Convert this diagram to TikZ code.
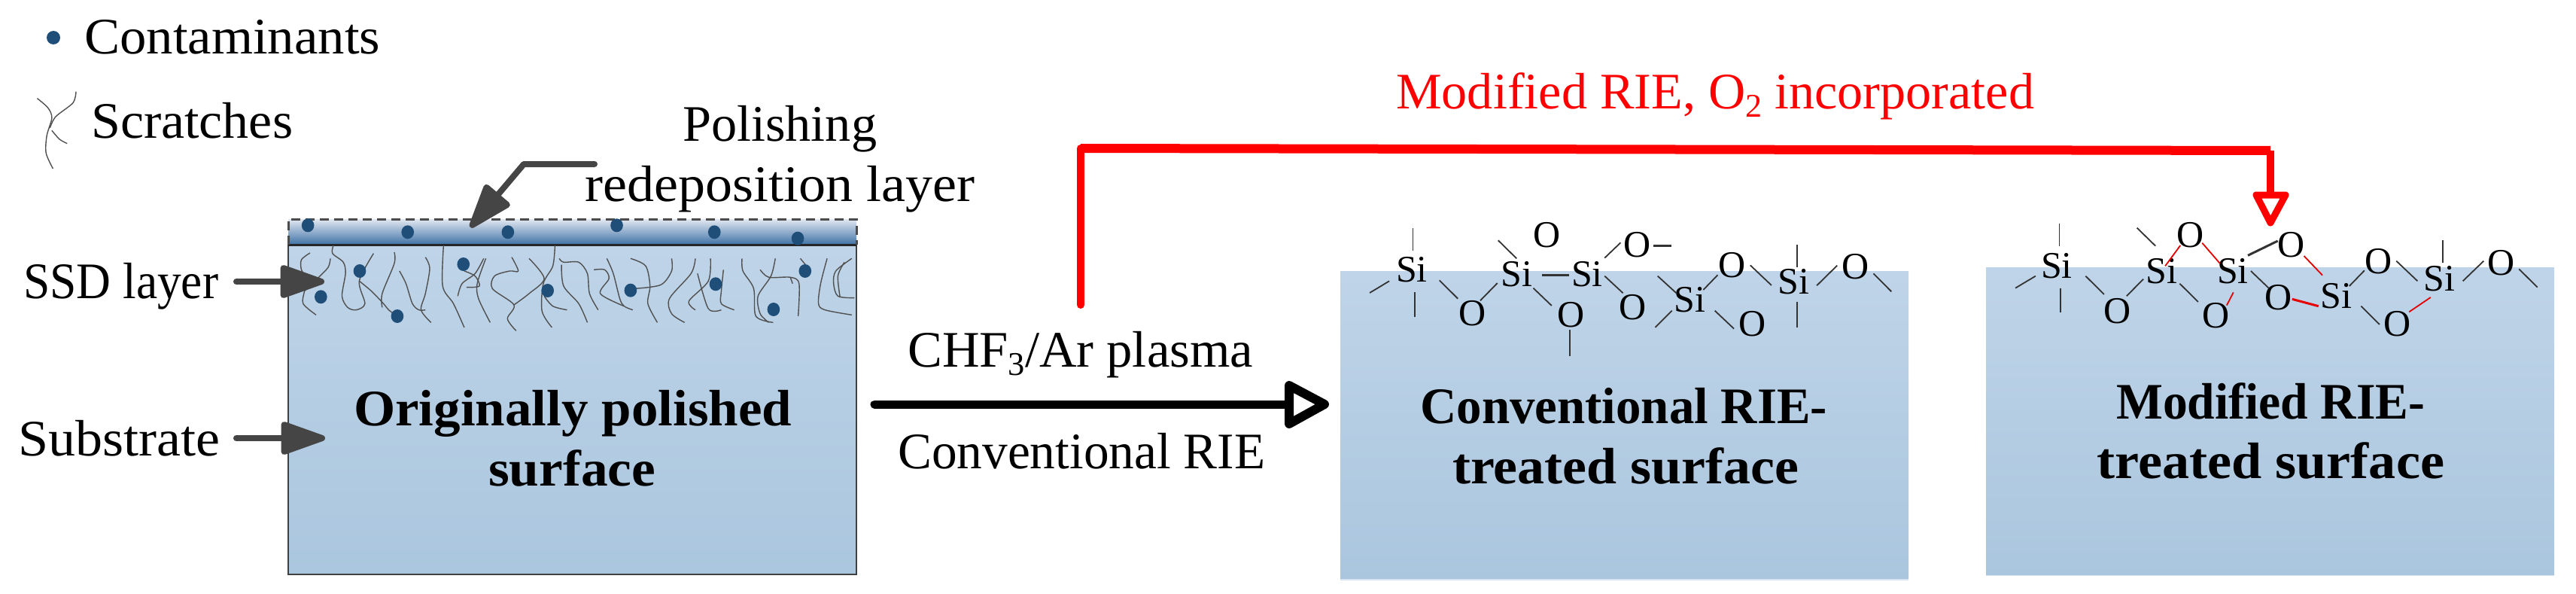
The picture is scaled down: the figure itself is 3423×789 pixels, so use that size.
\documentclass[tikz,border=0pt]{standalone}
\usepackage{fontspec}
\usepackage{graphicx}
\setmainfont{Liberation Serif}
\usetikzlibrary{arrows.meta}
\definecolor{boxtop}{HTML}{BFD4E8}
\definecolor{boxbot}{HTML}{AAC6DE}
\definecolor{lip}{HTML}{D8E4EF}
\definecolor{dotblue}{HTML}{1F4E79}
\definecolor{pointer}{HTML}{454545}
\definecolor{scr}{HTML}{505050}
\definecolor{laytop}{HTML}{E2E8F1}
\definecolor{laymid}{HTML}{A9C1DA}
\definecolor{laybot}{HTML}{3F72A6}
\newsavebox\fitbox
\newcommand\fitx[2]{\sbox\fitbox{#2}\pgfmathparse{#1/(\the\wd\fitbox)}\scalebox{\pgfmathresult}[1]{\usebox\fitbox}}
\newcommand\lowsub[1]{\raisebox{-11pt}{\fontsize{44}{44}\selectfont #1}}
\tikzset{
  lab/.style={inner sep=0pt,anchor=base west,font=\fontsize{68}{68}\selectfont},
  blab/.style={lab,font=\fontsize{68}{68}\selectfont\bfseries},
  atom/.style={inner sep=0pt,anchor=center,font=\fontsize{50}{50}\selectfont},
  bond/.style={draw=black!80,line width=1.8pt},
  hbond/.style={draw=black!80,line width=3pt},
  rbond/.style={draw=red!90!black,line width=1.8pt},
  rhbond/.style={draw=red!90!black,line width=3pt},
  scratch/.style={draw=scr,line width=1.4pt,line join=round},
  pointerarrow/.style={draw=pointer,line width=8pt,line cap=round,line join=round,
     -{Triangle[length=67pt,width=45pt,round=false]}},
  dotmark/.style={fill=dotblue},
}
\newcommand\scrline[1]{\draw[scratch] plot[smooth] coordinates {#1};}
\begin{document}
\begin{tikzpicture}[x=1pt,y=-1pt]
\useasboundingbox (0,0) rectangle (3423,789);
\fill[white] (0,0) rectangle (3423,789);

% coordinates of connectors
\coordinate (ssdS) at (314,374);
\coordinate (ssdT) at (431,374);
\coordinate (subS) at (314,582);
\coordinate (subT) at (432,582);
\coordinate (polS) at (790,218);
\coordinate (polK) at (696,218);
\coordinate (polT) at (625,302);
\coordinate (mainS) at (1162,537);
\coordinate (mainB) at (1712,537);
\coordinate (mainU) at (1713,512);
\coordinate (mainL) at (1713,563);
\coordinate (mainT) at (1760,537);
\coordinate (redS) at (1436,405);
\coordinate (redK) at (1436,197);
\coordinate (redJ) at (3017,200);
\coordinate (redB) at (3017,259);
\coordinate (redU) at (2998,259);
\coordinate (redL) at (3037,259);
\coordinate (redT) at (3017,296);

% boxes
\shade[top color=boxtop,bottom color=boxbot] (383,325) rectangle (1138,763);
\shade[top color=laytop,middle color=laymid,bottom color=laybot] (383,291) rectangle (1138,325);
\draw[black!75,line width=2.5pt] (383,325) -- (383,763) -- (1138,763) -- (1138,325);
\draw[black!85,line width=3pt] (383,325) -- (1138,325);
\draw[black!70,line width=3pt,dash pattern=on 12pt off 7pt] (383,325) -- (383,291) -- (1138,291) -- (1138,325);

\fill[lip] (1781,768) rectangle (2536,771);
\shade[top color=boxtop,bottom color=boxbot] (1781,360) rectangle (2536,768);
\fill[lip] (2639,763) rectangle (3394,765);
\shade[top color=boxtop,bottom color=boxbot] (2639,355) rectangle (3394,763);

% contaminants and scratches, traced in crop coordinates
\begin{scope}[shift={(350,280)},xscale=0.574,yscale=0.3333]
\foreach \p in {
 {(108,168)(88,195)(88,235)(100,270)(95,320)(92,370)(122,415)},
 {(155,190)(150,225)(125,270)(95,320)},
 {(162,138)(160,170)(185,205)(190,250)(182,340)(195,385)(215,395)(235,370)(222,280)(255,170)},
 {(222,280)(250,320)(278,370)(290,395)(310,420)},
 {(303,165)(303,210)(275,330)(275,385)},
 {(315,240)(330,290)(345,370)(360,395)(375,395)},
 {(375,185)(385,230)(375,330)(365,395)(388,445)},
 {(417,138)(415,300)(440,370)(465,465)},
 {(510,190)(490,250)(460,290)(450,340)},
 {(465,240)(490,260)(500,300)(470,305)},
 {(515,190)(495,290)(498,350)(525,445)},
 {(575,185)(590,240)(570,240)(535,260)(530,310)(580,375)(565,430)(585,478)},
 {(615,190)(650,270)(615,330)(580,375)},
 {(675,138)(670,220)(648,290)(645,400)(668,465)},
 {(650,340)(670,380)(703,395)},
 {(685,190)(695,205)(730,205)(750,250)(755,330)(775,395)},
 {(690,215)(695,300)(730,370)(750,445)},
 {(765,235)(790,235)(800,270)(780,330)(835,380)},
 {(795,190)(810,250)(825,350)(835,380)(855,395)},
 {(850,190)(885,220)(895,300)(890,370)(912,445)},
 {(945,190)(945,240)(920,295)(860,310)},
 {(1000,190)(990,250)(940,350)(945,410)(975,445)},
 {(1035,190)(1030,280)(985,360)(1000,395)},
 {(1005,250)(1030,390)(1060,395)},
 {(1065,235)(1060,320)(1060,370)(1090,395)},
 {(1108,190)(1110,240)(1135,310)(1140,420)(1180,445)},
 {(1185,190)(1175,260)(1145,340)(1150,410)(1170,445)},
 {(1150,235)(1170,265)(1220,265)(1240,290)(1238,420)},
 {(1220,265)(1225,290)},
 {(1243,190)(1255,215)},
 {(1305,190)(1290,290)(1285,370)(1300,395)(1362,415)},
 {(1362,190)(1325,240)(1320,290)(1330,340)(1368,347)},
 {(1345,205)(1330,260)(1335,345)}}
 {\expandafter\scrline\expandafter{\p}}
\foreach \x/\y in {103/58,334/85,566/85,818/58,1044/85,1237/110,223/240,133/343,310/420,463/213,658/318,850/317,1047/292,1181/393,1254/240}
 \fill[dotmark] (\x,\y) ellipse [x radius=14.5,y radius=27];
\end{scope}

% legend
\fill[dotmark] (71,50) ellipse [x radius=9,y radius=9];
\begin{scope}[xscale=0.5102,yscale=0.3333]
\scrline{(97,392)(125,430)(135,470)(122,540)(120,610)(138,672)}
\scrline{(198,365)(190,410)(145,465)(130,510)}
\scrline{(135,520)(155,555)(175,572)}
\end{scope}
\node[lab] (tcont) at (112,72) {\fitx{393}{Contaminants}};
\node[lab] (tscr) at (121,183) {\fitx{268}{Scratches}};
\node[lab] (tpol) at (907,187) {\fitx{258}{Polishing}};
\node[lab] (tred) at (777,267) {\fitx{518}{redeposition layer}};
\node[lab] (tssd) at (31,396) {\fitx{259}{SSD layer}};
\node[lab] (tsub) at (24,605) {\fitx{268}{Substrate}};
\node[blab] (tb1a) at (470,565) {\fitx{582}{Originally polished}};
\node[blab] (tb1b) at (649,645) {\fitx{222}{surface}};
\node[lab] (tchf) at (1206,487) {\fitx{459}{CHF\lowsub{3}/Ar plasma}};
\node[lab] (tcon) at (1193,622) {\fitx{488}{Conventional RIE}};
\node[lab,text=red] (tmod) at (1855,145) {\fitx{848}{Modified RIE, O\lowsub{2} incorporated}};
\node[blab] (tb2a) at (1887,562) {\fitx{541}{Conventional RIE-}};
\node[blab] (tb2b) at (1930,642) {\fitx{460}{treated surface}};
\node[blab] (tb3a) at (2812,556) {\fitx{410}{Modified RIE-}};
\node[blab] (tb3b) at (2786,635) {\fitx{462}{treated surface}};

% pointers
\draw[pointerarrow] (ssdS) -- (ssdT);
\draw[pointerarrow] (subS) -- (subT);
\draw[pointerarrow] (polS) -- (polK) -- (polT);

% main arrow
\draw[black,line width=11pt,line cap=round] (mainS) -- (mainB);
\draw[black,line width=12pt,line join=round,fill=white] (mainU) -- (mainT) -- (mainL) -- cycle;

% red arrow
\draw[red,line width=10pt,line cap=round] (redS) -- (redK);
\draw[red,line width=12pt] (redK) -- (redJ);
\draw[red,line width=10pt] (redJ) -- (redB);
\draw[red,line width=9pt,line join=round,fill=white] (redU) -- (redL) -- (redT) -- cycle;

% conventional surface chemistry
\begin{scope}[shift={(1800,260)},xscale=0.542,yscale=0.3333]
\foreach \n/\t/\x/\y in {a/Si/140/295,b/O/288/470,c/Si/397/312,d/O/472/158,e/Si/570/312,f/O/693/195,g/O/682/445,h/Si/822/415,i/O/926/278,j/O/976/512,k/Si/1076/342,l/O/1228/283,m/O/530/476}
 \node[atom] (c\n) at (\x,\y) {\t};
\foreach \a/\b/\c/\d in {143/128/143/218,85/340/37/387,147/385/147/483,208/337/253/410,308/418/350/348,352/178/397/250,438/368/483/438,613/248/652/187,613/320/658/388,527/535/527/640,743/320/790/390,778/458/737/525,855/375/890/316,883/458/930/530,970/277/1022/357,1085/195/1085/285,1085/422/1085/525,1133/358/1183/278,1272/310/1316/382}
 \draw[bond] (\a,\b) -- (\c,\d);
\draw[hbond] (460,318) -- (525,318);
\draw[hbond] (733,200) -- (777,200);
\end{scope}

% modified surface chemistry
\begin{scope}[shift={(2720,260)},xscale=0.4464,yscale=0.3333]
\foreach \n/\t/\x/\y in {a/Si/29/279,b/O/210/460,c/Si/342/300,d/O/427/158,e/Si/553/300,f/O/727/195,g/O/690/405,h/O/502/477,i/Si/862/400,j/O/987/262,k/O/1043/512,l/Si/1168/332,m/O/1353/267}
 \node[atom] (m\n) at (\x,\y) {\t};
\foreach \a/\b/\c/\d in {37/110/37/200,40/368/40/465,-34/320/-94/368,115/320/170/393,237/400/287/332,268/128/323/200,395/350/450/423,607/300/660/368,900/360/945/298,935/440/990/513,1040/260/1103/340,1178/178/1178/268,1238/340/1300/260,1405/292/1460/365}
 \draw[bond] (\a,\b) -- (\c,\d);
\draw[hbond] (598,238) -- (687,180);
\foreach \a/\b/\c/\d in {352/280/397/198,462/188/515/270,535/437/555/385,765/240/820/317,1078/463/1142/405}
 \draw[rbond] (\a,\b) -- (\c,\d);
\draw[rhbond] (730,412) -- (808,440);
\end{scope}
\end{tikzpicture}
\end{document}
